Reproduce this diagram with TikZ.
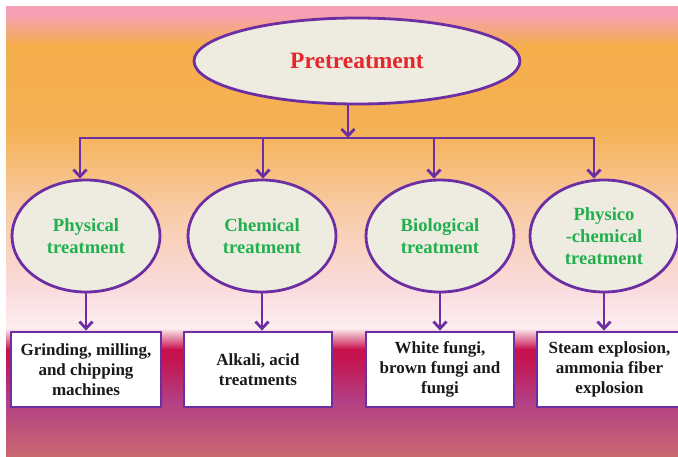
\documentclass[tikz,border=0pt]{standalone}
\usepackage{fontspec}
\setmainfont{Liberation Serif}
\usetikzlibrary{shapes.geometric,arrows.meta}
\definecolor{pur}{HTML}{6C2FA3}
\definecolor{beige}{HTML}{EEEBE1}
\definecolor{tred}{HTML}{E5262B}
\definecolor{tgreen}{HTML}{22B04E}
\definecolor{g1}{HTML}{F6A0B6}
\definecolor{g2}{HTML}{F5AE4B}
\definecolor{g3}{HTML}{F5B156}
\definecolor{g4}{HTML}{F8CAA2}
\definecolor{g5}{HTML}{FADCDF}
\definecolor{g6}{HTML}{FCEEF0}
\definecolor{g7}{HTML}{C8104C}
\definecolor{g8}{HTML}{C21753}
\definecolor{g9}{HTML}{B33F84}
\definecolor{g10}{HTML}{CA6870}
\tikzset{
  oval/.style={ellipse, draw=pur, line width=2.8pt, fill=beige, inner sep=0pt, align=center},
  catoval/.style={oval, minimum width=148pt, minimum height=112pt, text=tgreen,
     font=\bfseries\fontsize{18.6}{22.3}\selectfont},
  itembox/.style={rectangle, draw=pur, line width=2.8pt, fill=white, inner sep=0pt,
     minimum height=75pt, align=center, text=black!90,
     font=\bfseries\fontsize{17}{20.2}\selectfont},
  conn/.style={draw=pur, line width=2.8pt},
  arr/.style={conn, -{Straight Barb[length=7pt,width=13pt]}}
}
\begin{document}
\begin{tikzpicture}[x=1pt,y=-1pt]
\useasboundingbox (0,0) rectangle (678,456);
\fill[white] (0,0) rectangle (678,456);
% background gradient bands
\fill[g1] (6,6) rectangle (678,14.5);
\shade[top color=g1, bottom color=g2] (6,14) rectangle (678,45.5);
\shade[top color=g2, bottom color=g3] (6,45) rectangle (678,130.5);
\shade[top color=g3, bottom color=g4] (6,130) rectangle (678,205.5);
\shade[top color=g4, bottom color=g5] (6,205) rectangle (678,290.5);
\shade[top color=g5, bottom color=g6] (6,290) rectangle (678,328.5);
\shade[top color=g6, bottom color=g7] (6,328) rectangle (678,349.5);
\shade[top color=g7, bottom color=g8] (6,349) rectangle (678,362.5);
\shade[top color=g8, bottom color=g9] (6,362) rectangle (678,400.5);
\shade[top color=g9, bottom color=g10] (6,400) rectangle (678,456);

% top node
\node[oval, minimum width=326pt, minimum height=86pt, text=tred,
      font=\bfseries\fontsize{23.5}{26}\selectfont] (top) at (357,61) {Pretreatment};

% categories
\node[catoval] (c1) at (86,236) {Physical\\treatment};
\node[catoval] (c2) at (262,236) {Chemical\\treatment};
\node[catoval] (c3) at (440,236) {Biological\\treatment};
\node[catoval] (c4) at (604,236) {Physico\\-chemical\\treatment};

% items
\node[itembox, minimum width=150pt] (k1) at (86,369.5) {Grinding, milling,\\and chipping\\machines};
\node[itembox, minimum width=148pt] (k2) at (258,369.5) {Alkali, acid\\treatments};
\node[itembox, minimum width=148pt] (k3) at (440,369.5) {White fungi,\\brown fungi and\\fungi};
\node[itembox, minimum width=145pt] (k4) at (609.5,369.5) {Steam explosion,\\ammonia fiber\\explosion};

% bus
\coordinate (bus) at (348,138);
\coordinate (b1) at (80,138);
\coordinate (b2) at (263,138);
\coordinate (b3) at (434,138);
\coordinate (b4) at (594,138);
\draw[arr] (top.south -| bus) -- (bus);
\draw[conn, line cap=rect] (b1) -- (b4);
\draw[arr] (b1) -- (b1 |- c1.north);
\draw[arr] (b2) -- (b2 |- c2.north);
\draw[arr] (b3) -- (b3 |- c3.north);
\draw[arr] (b4) -- (b4 |- c4.north);

% to items
\draw[arr] (c1.south) -- (c1.south |- k1.north);
\draw[arr] (c2.south) -- (c2.south |- k2.north);
\draw[arr] (c3.south) -- (c3.south |- k3.north);
\draw[arr] (c4.south) -- (c4.south |- k4.north);
\end{tikzpicture}
\end{document}
